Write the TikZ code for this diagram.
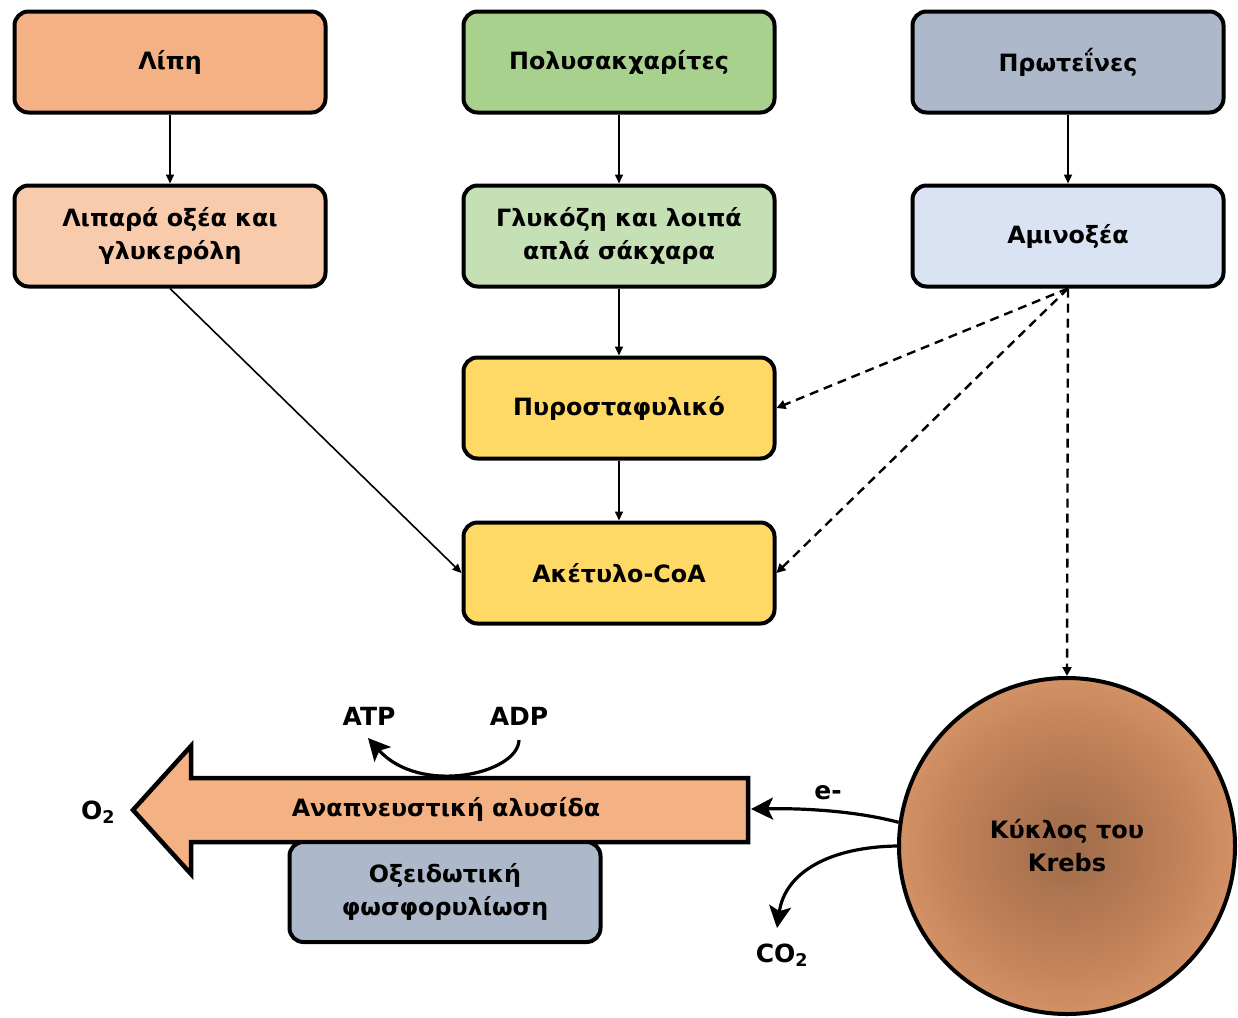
\documentclass[tikz,border=0pt]{standalone}
\usepackage{fontspec}
\setmainfont{DejaVu Sans}
\usetikzlibrary{arrows.meta}
\definecolor{cLipi}{HTML}{F4B183}
\definecolor{cLipar}{HTML}{F8CBAD}
\definecolor{cPoly}{HTML}{A9D18E}
\definecolor{cGlyk}{HTML}{C5E0B4}
\definecolor{cProt}{HTML}{ADB9CA}
\definecolor{cAmin}{HTML}{DAE3F3}
\definecolor{cYel}{HTML}{FFD966}
\definecolor{cKin}{HTML}{9E6B4A}
\definecolor{cKmid}{HTML}{BD7F57}
\definecolor{cKout}{HTML}{E29D6E}
\pgfdeclareradialshading{krebsshade}{\pgfpoint{0bp}{0bp}}{color(0bp)=(cKin); color(15bp)=(cKmid); color(32bp)=(cKout); color(50bp)=(cKout)}
\begin{document}
\begin{tikzpicture}[x=1pt,y=-1pt,
  every node/.style={font=\fontsize{23.8}{33}\selectfont\bfseries},
  box/.style={draw, line width=4pt, rounded corners=14pt, minimum width=311pt, minimum height=101pt, align=center, inner sep=2pt},
  thinarrow/.style={line width=1.6pt, -{Triangle[length=9pt,width=8pt]}},
  dasharrow/.style={line width=2.4pt, dash pattern=on 9pt off 6pt, -{Triangle[length=9pt,width=9pt]}},
  bigarrow/.style={line width=3.2pt, -{Stealth[length=22pt,width=22pt,inset=5pt]}},
  lbl/.style={font=\fontsize{25}{28}\selectfont\bfseries, inner sep=1pt}
]
\useasboundingbox (0,0) rectangle (1238,1017);
% top row
\node[box, fill=cLipi] (lipi) at (170,62) {Λίπη};
\node[box, fill=cPoly] (poly) at (619,62) {Πολυσακχαρίτες};
\node[box, fill=cProt] (prot) at (1068,62) {Πρωτεΐνες};
% second row
\node[box, fill=cLipar] (lipar) at (170,236) {Λιπαρά οξέα και\\γλυκερόλη};
\node[box, fill=cGlyk] (glyk) at (619,236) {Γλυκόζη και λοιπά\\απλά σάκχαρα};
\node[box, fill=cAmin] (amin) at (1068,236) {Αμινοξέα};
% middle
\node[box, fill=cYel] (pyro) at (619,408) {Πυροσταφυλικό};
\node[box, fill=cYel] (acet) at (619,573) {Ακέτυλο-CoA};
% Krebs
\node[circle, draw, line width=4pt, minimum size=336pt, shading=krebsshade, align=center, font=\fontsize{24}{33}\selectfont\bfseries] (krebs) at (1067,846) {Κύκλος του\\Krebs};
% solid arrows
\draw[thinarrow] (lipi) -- (lipar);
\draw[thinarrow] (poly) -- (glyk);
\draw[thinarrow] (prot) -- (amin);
\draw[thinarrow] (glyk) -- (pyro);
\draw[thinarrow] (pyro) -- (acet);
\draw[thinarrow] (lipar.south) -- (acet.west);
% dashed arrows
\draw[dasharrow] (amin.south) -- (pyro.east);
\draw[dasharrow] (amin.south) -- (acet.east);
\draw[dasharrow] (amin.south) -- (krebs.north);
% respiratory chain big arrow
\draw[line width=4.5pt, fill=cLipi, line join=miter]
  (748,778) -- (191,778) -- (191,746) -- (133,810) -- (191,874) -- (191,842) -- (748,842) -- cycle;
\node (chain) at (446,809) {Αναπνευστική αλυσίδα};
\coordinate (chainend) at (751,809);
\node[box, fill=cProt, minimum height=100pt] (oxid) at (445,892) {Οξειδωτική\\φωσφορυλίωση};
% labels
\node[lbl] (o2) at (98,812) {O\textsubscript{2}};
\node[lbl] (atp) at (369,716) {ATP};
\node[lbl] (adp) at (519,716) {ADP};
\node[lbl] (em) at (828,793) {e-};
\node[lbl] (co2) at (782,955) {CO\textsubscript{2}};
% curved arrows
\draw[bigarrow] (519,740) .. controls (518,774) and (420,796) .. (368,738);
\draw[bigarrow] (krebs.172) .. controls (860,812) and (810,808) .. (chainend);
\draw[bigarrow] (krebs.180) .. controls (830,847) and (785,872) .. (777,928);
\end{tikzpicture}
\end{document}
